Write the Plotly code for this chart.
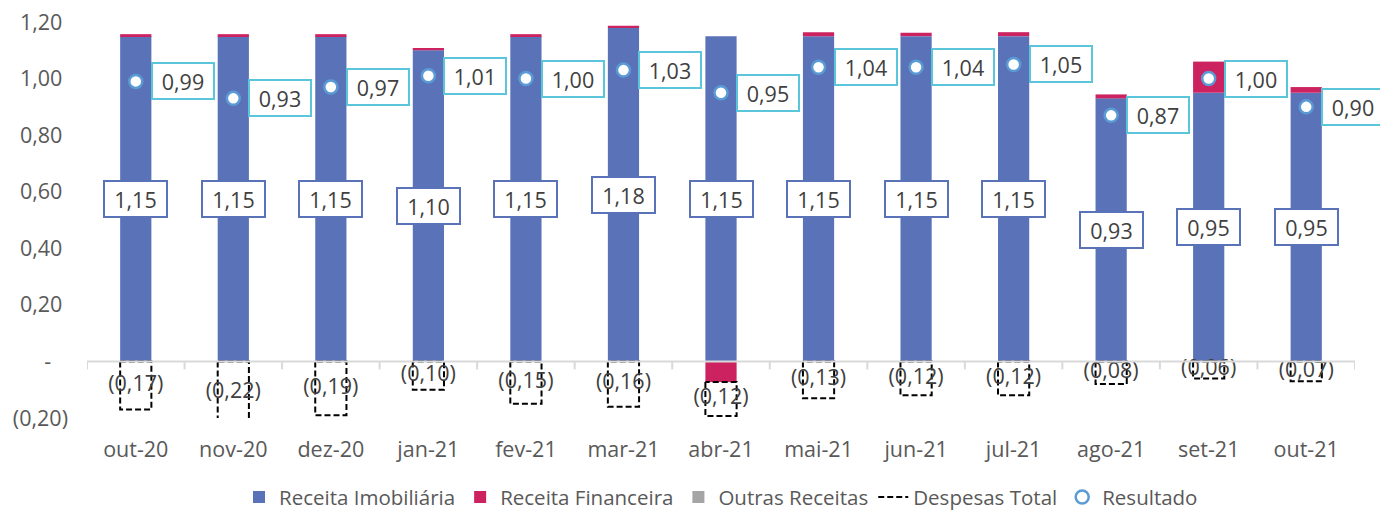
import plotly.graph_objects as go

categories = ["out-20", "nov-20", "dez-20", "jan-21", "fev-21", "mar-21", "abr-21",
              "mai-21", "jun-21", "jul-21", "ago-21", "set-21", "out-21"]
receita_imob = [1.15, 1.15, 1.15, 1.10, 1.15, 1.18, 1.15, 1.15, 1.15, 1.15, 0.93, 0.95, 0.95]
receita_fin = [0.007, 0.007, 0.007, 0.008, 0.007, 0.007, -0.073, 0.014, 0.012, 0.014, 0.014, 0.11, 0.02]
outras_rec = [0, 0, 0, 0, 0, 0, 0, 0, 0, 0, 0, 0, 0]
despesas = [-0.17, -0.22, -0.19, -0.10, -0.15, -0.16, -0.12, -0.13, -0.12, -0.12, -0.08, -0.06, -0.07]
resultado = [0.99, 0.93, 0.97, 1.01, 1.00, 1.03, 0.95, 1.04, 1.04, 1.05, 0.87, 1.00, 0.90]
ytick_vals = [-0.2, 0, 0.2, 0.4, 0.6, 0.8, 1.0, 1.2]
ytick_text = ["(0,20)", "-\u00a0\u00a0\u00a0", "0,20\u00a0", "0,40\u00a0", "0,60\u00a0",
              "0,80\u00a0", "1,00\u00a0", "1,20\u00a0"]

BLUE = "#5a73b8"
PINK = "#cc2260"
GRAY = "#a5a5a5"
CYAN = "#5bc5dc"
RING = "#5b9bd5"
TXT = "#404040"
AX = "#595959"
FONT = "Open Sans"
FS = 21.5
BW = 0.32

xs = list(range(len(categories)))


def fmt(v):
    s = f"{abs(v):.2f}".replace(".", ",")
    return f"({s})" if v < 0 else s


fig = go.Figure()
fig.add_trace(go.Bar(x=xs, y=receita_imob, name="Receita Imobiliária", width=BW,
                     marker=dict(color=BLUE, line=dict(width=0))))
fig.add_trace(go.Bar(x=xs, y=receita_fin, name="Receita Financeira", width=BW,
                     marker=dict(color=PINK, line=dict(width=0))))
fig.add_trace(go.Bar(x=xs, y=outras_rec, name="Outras Receitas", width=BW,
                     marker=dict(color=GRAY, line=dict(width=0))))

# dashed outline for Despesas (stacked below any negative financial revenue)
dx, dy = [], []
lab_y = []
for i, d in enumerate(despesas):
    base = receita_fin[i] if receita_fin[i] < 0 else 0
    bot = base + d
    x0, x1 = i - BW / 2, i + BW / 2
    dx += [x0, x0, x1, x1, x0, None]
    dy += [base, bot, bot, base, base, None]
    lab_y.append(base + d / 2)
fig.add_trace(go.Scatter(x=dx, y=dy, mode="lines", name="Despesas Total",
                         line=dict(color="black", width=2, dash="6px,3px"),
                         hoverinfo="skip"))
fig.add_trace(go.Scatter(x=xs, y=lab_y, mode="text", text=[fmt(v) for v in despesas],
                         textfont=dict(family=FONT, size=FS, color=TXT),
                         showlegend=False, hoverinfo="skip", cliponaxis=False))

fig.add_trace(go.Scatter(x=xs, y=resultado, mode="markers", name="Resultado",
                         marker=dict(symbol="circle", size=13, color="white",
                                     line=dict(color=RING, width=2.5))))

annotations = []
for i in xs:
    annotations.append(dict(x=i, y=receita_imob[i] / 2, xref="x", yref="y",
                            text=fmt(receita_imob[i]), showarrow=False,
                            font=dict(family=FONT, size=FS, color=TXT),
                            bgcolor="white", bordercolor=BLUE, borderwidth=2,
                            borderpad=1, width=59, height=32))
    annotations.append(dict(x=i, y=resultado[i], xref="x", yref="y",
                            text=fmt(resultado[i]), showarrow=False,
                            xanchor="left", xshift=15,
                            font=dict(family=FONT, size=FS, color=TXT),
                            bgcolor="white", bordercolor=CYAN, borderwidth=2,
                            borderpad=1, width=58, height=32))

shapes = [dict(type="line", xref="paper", yref="y", x0=0, x1=1, y0=0, y1=0,
               line=dict(color="#d9d9d9", width=2), layer="above")]
for i in range(len(categories) + 1):
    shapes.append(dict(type="line", xref="x", yref="y", ysizemode="pixel", yanchor=0,
                       x0=i - 0.5, x1=i - 0.5, y0=0, y1=-8,
                       line=dict(color="#d9d9d9", width=2), layer="above"))

fig.update_layout(
    width=1380, height=512,
    margin=dict(l=87, r=25, t=22, b=94, autoexpand=False),
    paper_bgcolor="white", plot_bgcolor="white",
    barmode="relative",
    font=dict(family=FONT, size=FS, color=AX),
    showlegend=True,
    legend=dict(orientation="h", x=0.5, xanchor="center", y=-0.2, yanchor="middle",
                font=dict(family=FONT, size=20.5, color=AX), itemwidth=30,
                traceorder="normal"),
    annotations=annotations,
    shapes=shapes,
    xaxis=dict(range=[-0.5, len(categories) - 0.5], tickmode="array", tickvals=xs,
               ticktext=categories, showgrid=False, zeroline=False, showline=False,
               ticks="", ticklabelstandoff=16, automargin=False,
               tickfont=dict(family=FONT, size=FS, color=AX)),
    yaxis=dict(range=[-0.2, 1.2], tickmode="array", tickvals=ytick_vals,
               ticktext=ytick_text, showgrid=False, zeroline=False, showline=False,
               ticks="", ticklabelstandoff=18, automargin=False,
               tickfont=dict(family=FONT, size=FS, color=AX)),
)

fig.write_html("out.html", config={"displayModeBar": False},
               post_script="document.body.style.margin='0';document.body.style.overflow='hidden';")
